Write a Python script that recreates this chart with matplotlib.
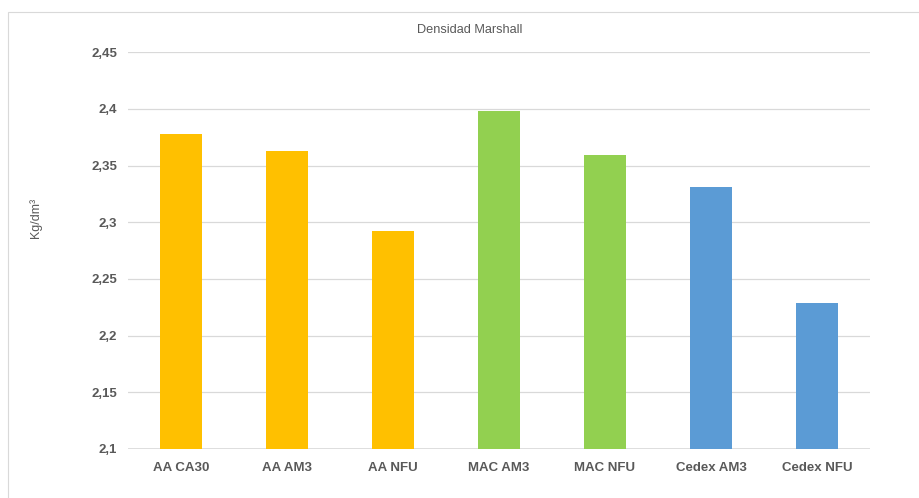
import matplotlib
matplotlib.use("Agg")
import matplotlib.pyplot as plt
from matplotlib.patches import Rectangle
from matplotlib.ticker import FixedLocator, FuncFormatter

plt.rcParams['font.family'] = ['Liberation Sans', 'DejaVu Sans']

categories = ["AA CA30", "AA AM3", "AA NFU", "MAC AM3", "MAC NFU", "Cedex AM3", "Cedex NFU"]
values = [2.378, 2.363, 2.292, 2.398, 2.359, 2.331, 2.229]
colors = ["#FFC000", "#FFC000", "#FFC000", "#92D050", "#92D050", "#5B9BD5", "#5B9BD5"]
yticks = [2.1, 2.15, 2.2, 2.25, 2.3, 2.35, 2.4, 2.45]
ytick_labels = ["2,1", "2,15", "2,2", "2,25", "2,3", "2,35", "2,4", "2,45"]

W, H = 919, 498
fig = plt.figure(figsize=(W / 100, H / 100), dpi=100)

# outer chart frame
fig.patches.append(Rectangle((7.5 / W, -0.05), 1.2, (H - 12.5) / H + 0.05,
                             transform=fig.transFigure, fill=False,
                             edgecolor="#d9d9d9", linewidth=0.8, clip_on=False))

ax = fig.add_axes([128 / W, (H - 449) / H, 742 / W, (449 - 52.3) / H])
x = list(range(len(categories)))
ax.bar(x, [v - 2.1 for v in values], bottom=2.1, width=0.405, color=colors, zorder=2)

ax.set_xlim(-0.5, len(categories) - 0.5)
ax.set_ylim(2.1, 2.45)
ax.yaxis.set_major_locator(FixedLocator(yticks))
ax.set_yticklabels(ytick_labels)
ax.set_xticks(x)
ax.set_xticklabels(categories)

for s in ax.spines.values():
    s.set_visible(False)
ax.grid(axis="y", color="#d9d9d9", linewidth=0.9, zorder=0)
ax.set_axisbelow(True)
ax.axhline(2.1, color="#d9d9d9", linewidth=1.2, zorder=1)

ax.tick_params(axis="both", length=0, labelsize=9.5, labelcolor="#595959")
ax.tick_params(axis="y", pad=8)
ax.tick_params(axis="x", pad=9)
for lbl in ax.get_xticklabels() + ax.get_yticklabels():
    lbl.set_fontweight("bold")

fig.text(470 / W, 1 - 30 / H, "Densidad Marshall", ha="center", va="center",
         fontsize=9.2, color="#595959")
fig.text(36 / W, 1 - 218 / H, "Kg/dm³", ha="center", va="center", rotation=90,
         fontsize=9, color="#595959")

fig.savefig("out.png", dpi=100)
